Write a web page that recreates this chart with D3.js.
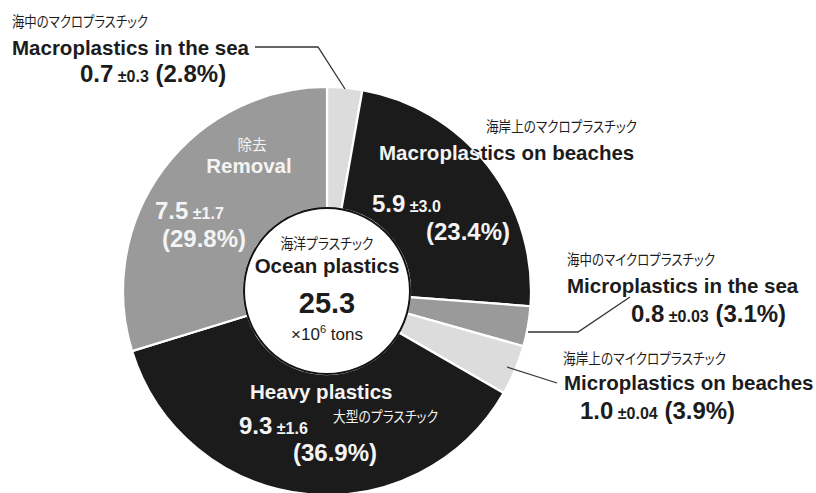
<!DOCTYPE html>
<html>
<head>
<meta charset="utf-8">
<script src="https://cdn.jsdelivr.net/npm/d3@7"></script>
<style>
  html, body { margin: 0; padding: 0; background: #fff; }
  svg { display: block; }
  .jp { font-family: "Noto Sans CJK JP", sans-serif; font-feature-settings: "palt"; }
  .lat { font-family: "Liberation Sans", Arial, Helvetica, sans-serif; }
</style>
</head>
<body>
<svg id="chart" width="816" height="493"></svg>
<script>
// Ocean plastics budget (×10^6 tons), clockwise from 12 o'clock
const categories = [
  "Macroplastics in the sea",
  "Macroplastics on beaches",
  "Microplastics in the sea",
  "Microplastics on beaches",
  "Heavy plastics",
  "Removal"
];
const jpNames = [
  "海中のマクロプラスチック",
  "海岸上のマクロプラスチック",
  "海中のマイクロプラスチック",
  "海岸上のマイクロプラスチック",
  "大型のプラスチック",
  "除去"
];
const values = [0.7, 5.9, 0.8, 1.0, 9.3, 7.5];
const errors = ["±0.3", "±3.0", "±0.03", "±0.04", "±1.6", "±1.7"];
const shares = ["(2.8%)", "(23.4%)", "(3.1%)", "(3.9%)", "(36.9%)", "(29.8%)"];
const totalValue = "25.3";
const totalJp = "海洋プラスチック";
const totalName = "Ocean plastics";

// Styling
const fills = ["#dcdcdc", "#1b1b1b", "#9a9a9a", "#dcdcdc", "#1b1b1b", "#9a9a9a"];
const DARK = "#1c1c1c";
const LIGHT = "#f4f4f4";

const cx = 327, cy = 291, rOuter = 204, rInner = 83;

const svg = d3.select("#chart");
const g = svg.append("g").attr("transform", `translate(${cx},${cy})`);

const pie = d3.pie().sort(null).value(d => d)
  .startAngle(0).endAngle(2 * Math.PI);
const arcs = pie(values);
const arc = d3.arc().innerRadius(rInner).outerRadius(rOuter);

g.selectAll("path.slice")
  .data(arcs)
  .join("path")
  .attr("class", "slice")
  .attr("d", arc)
  .attr("fill", (d, i) => fills[i])
  .attr("stroke", "#fff")
  .attr("stroke-width", 2.2)
  .attr("stroke-linejoin", "miter");

// clip paths per slice (page coordinates) for labels that cross a slice edge
const defs = svg.append("defs");
arcs.forEach((d, i) => {
  defs.append("clipPath").attr("id", "clip" + i)
    .append("path")
    .attr("transform", `translate(${cx},${cy})`)
    .attr("d", d3.arc().innerRadius(rInner).outerRadius(rOuter)(d));
});

// hub
g.append("circle")
  .attr("r", rInner)
  .attr("fill", "#fff")
  .attr("stroke", "#111")
  .attr("stroke-width", 2);

// leader lines
const leaders = [
  { i: 0, pts: [[255, 47], [318, 47], [345, 89]] },
  { i: 2, pts: [[528, 332], [578, 332], [630, 297]] },
  { i: 3, pts: [[507, 367], [557, 383]] }
];
svg.selectAll("path.leader")
  .data(leaders)
  .join("path")
  .attr("class", "leader")
  .attr("d", d => d3.line()(d.pts))
  .attr("fill", "none")
  .attr("stroke", "#333")
  .attr("stroke-width", 1.3);

// label layout: jp name, english name, value line, optional share line
const layout = [
  { jp: [12, 27, 136], name: [12, 55], val: [80, 82], share: null, color: DARK },
  { jp: [486, 132, 151], name: [379, 160], val: [372, 212], share: [426, 240], color: LIGHT, nameSplit: true },
  { jp: [567, 265, 148], name: [567, 293], val: [631, 322], share: null, color: DARK },
  { jp: [563, 364, 163], name: [564, 390], val: [580, 419], share: null, color: DARK },
  { jp: [333, 422, 105], name: [250, 399], val: [239, 434], share: [293, 461], color: LIGHT },
  { jp: [252, 150, null], name: [249, 173], val: [155, 219], share: [162, 247], color: LIGHT, centerName: true }
];

const jpColor = (i) => (i === 4 || i === 5) ? LIGHT : DARK;

layout.forEach((L, i) => {
  // Japanese name
  const jt = svg.append("text")
    .attr("class", "jp")
    .attr("x", L.jp[0]).attr("y", L.jp[1])
    .attr("font-size", 14.5)
    .attr("fill", jpColor(i))
    .attr("text-anchor", L.jp[2] ? "start" : "middle")
    .text(jpNames[i]);
  if (L.jp[2]) jt.attr("textLength", L.jp[2]).attr("lengthAdjust", "spacingAndGlyphs");

  // English name
  const drawName = (color, clip) => {
    const t = svg.append("text")
      .attr("class", "lat")
      .attr("x", L.name[0]).attr("y", L.name[1])
      .attr("font-size", 20.5)
      .attr("font-weight", "bold")
      .attr("fill", color)
      .attr("text-anchor", L.centerName ? "middle" : "start")
      .text(categories[i]);
    if (clip) t.attr("clip-path", `url(#${clip})`);
  };
  if (L.nameSplit) {
    drawName(DARK, null);
    drawName(LIGHT, "clip" + i);
  } else {
    drawName(L.color, null);
  }

  // value ± error (share)
  const vt = svg.append("text")
    .attr("class", "lat")
    .attr("x", L.val[0]).attr("y", L.val[1])
    .attr("font-weight", "bold")
    .attr("fill", L.color);
  vt.append("tspan").attr("font-size", 24).text(values[i].toFixed(1));
  vt.append("tspan").attr("font-size", 16).text(" " + errors[i]);
  if (!L.share) {
    vt.append("tspan").attr("font-size", 24).text(" " + shares[i]);
  } else {
    svg.append("text")
      .attr("class", "lat")
      .attr("x", L.share[0]).attr("y", L.share[1])
      .attr("font-weight", "bold")
      .attr("font-size", 24)
      .attr("fill", L.color)
      .text(shares[i]);
  }
});

// centre total
svg.append("text").attr("class", "jp")
  .attr("x", cx).attr("y", 249)
  .attr("font-size", 14.5).attr("fill", DARK)
  .attr("text-anchor", "middle")
  .attr("textLength", 93).attr("lengthAdjust", "spacingAndGlyphs")
  .text(totalJp);
svg.append("text").attr("class", "lat")
  .attr("x", cx).attr("y", 273)
  .attr("font-size", 20.5).attr("font-weight", "bold").attr("fill", DARK)
  .attr("text-anchor", "middle")
  .text(totalName);
svg.append("text").attr("class", "lat")
  .attr("x", cx).attr("y", 313)
  .attr("font-size", 29).attr("font-weight", "bold").attr("fill", DARK)
  .attr("text-anchor", "middle")
  .text(totalValue);
const unit = svg.append("text").attr("class", "lat")
  .attr("x", cx).attr("y", 340)
  .attr("font-size", 17).attr("fill", DARK)
  .attr("text-anchor", "middle");
unit.append("tspan").text("×10");
unit.append("tspan").attr("font-size", 11).attr("dy", -7).text("6");
unit.append("tspan").attr("dy", 7).text(" tons");
</script>
</body>
</html>
